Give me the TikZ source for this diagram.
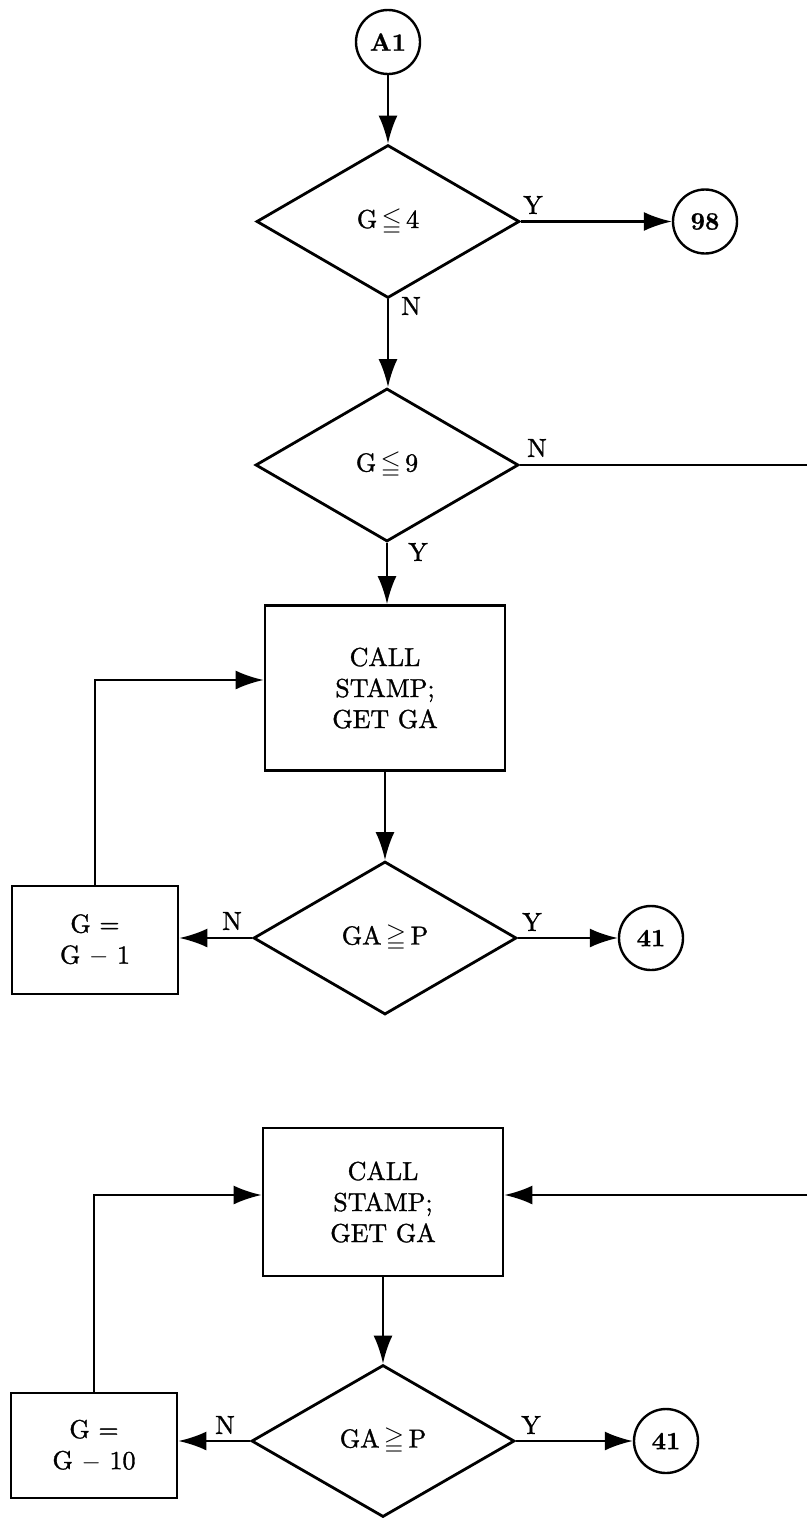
\documentclass[tikz,border=0pt]{standalone}
\usepackage{amssymb}
\usepackage{fontspec}
\newfontfamily\heavy{lmroman10-regular.otf}[FakeBold=1.2]
\newfontfamily\heavier{lmroman10-bold.otf}[FakeBold=0.8]
\usetikzlibrary{shapes.geometric,arrows.meta}
\begin{document}
\begin{tikzpicture}[x=1pt,y=-1pt,
  every node/.style={font=\fontsize{26}{31}\selectfont\heavy},
  dia/.style={draw, diamond, line width=2.8pt, inner sep=0pt, minimum width=263pt, minimum height=153pt},
  box/.style={draw, rectangle, line width=2.8pt, align=center, inner sep=0pt},
  circ/.style={draw, circle, line width=2.4pt, inner sep=0pt, minimum size=64pt, font=\fontsize{25}{31}\selectfont\heavier},
  lab/.style={inner sep=0pt},
  arr/.style={line width=2.4pt, -{Latex[length=28pt,width=19pt]}},
  ln/.style={line width=2.4pt}]
\useasboundingbox (0,0) rectangle (807,1518);
% top part
\node[circ] (a1) at (388,42) {A1};
\node[dia] (d1) at (388,221.5) {G\,$\leqq$\,4};
\node[circ] (c98) at (705,221.5) {98};
\node[dia] (d2) at (387,465) {G\,$\leqq$\,9};
\coordinate (r1) at (807,465);
\node[box, minimum width=240pt, minimum height=165pt] (b1) at (385,688) {CALL\\STAMP;\\GET GA};
\node[dia] (d3) at (385,938) {GA\,$\geqq$\,P};
\node[box, minimum width=166pt, minimum height=108pt] (s1) at (95,940) {G =\\G $-$ 1};
\node[circ] (c41a) at (651,938) {41};
% bottom part
\node[box, minimum width=240pt, minimum height=148pt] (b2) at (383,1202) {CALL\\STAMP;\\GET GA};
\coordinate (r2) at (807,1195);
\node[dia, minimum height=152pt] (d4) at (383,1441) {GA\,$\geqq$\,P};
\node[box, minimum width=166pt, minimum height=105pt] (s2) at (94,1445.5) {G =\\G $-$ 10};
\node[circ] (c41b) at (666,1441) {41};
% connectors
\draw[arr] (a1) -- (d1.north);
\draw[arr] (d1.east) -- (c98);
\draw[arr] (d1.south) -- (d1.south |- d2.north);
\draw[ln] (d2.east) -- (r1);
\draw[arr] (d2.south) -- (d2.south |- b1.north);
\draw[arr] (b1.south) -- (d3.north);
\draw[arr] (d3.west) -- (d3.west -| s1.east);
\draw[arr] (d3.east) -- (c41a);
\draw[arr] (s1.north) |- ([yshift=8pt]b1.west);
\draw[arr] (r2) -- ([yshift=7pt]b2.east);
\draw[arr] (b2.south) -- (d4.north);
\draw[arr] (d4.west) -- (d4.west -| s2.east);
\draw[arr] (d4.east) -- (c41b);
\draw[arr] (s2.north) |- ([yshift=7pt]b2.west);
% labels
\node[lab] (y1) at (533,205) {Y};
\node[lab] (n1) at (411,306) {N};
\node[lab] (n2) at (537,448) {N};
\node[lab] (y2) at (418,552) {Y};
\node[lab] (n3) at (232,921) {N};
\node[lab] (y3) at (532,922) {Y};
\node[lab] (n4) at (225,1425) {N};
\node[lab] (y4) at (531,1425) {Y};
\end{tikzpicture}
\end{document}
